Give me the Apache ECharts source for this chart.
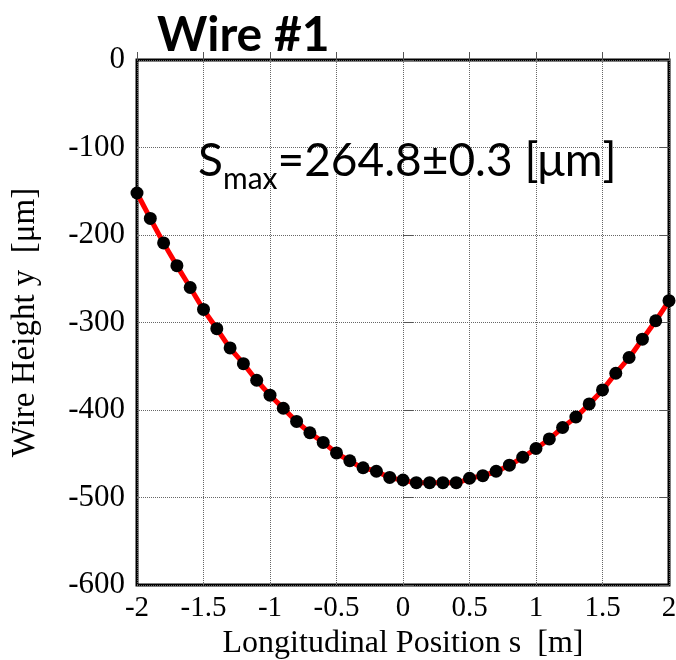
<!DOCTYPE html>
<html>
<head>
<meta charset="utf-8">
<script src="https://cdn.jsdelivr.net/npm/echarts@6/dist/echarts.min.js"></script>
<style>
  html, body { margin: 0; padding: 0; background: #fff; }
  #chart { width: 676px; height: 660px; }
</style>
</head>
<body>
<div id="chart"></div>
<script>
// longitudinal position s [m]
const positions = [-2.0, -1.9, -1.8, -1.7, -1.6, -1.5, -1.4, -1.3, -1.2, -1.1, -1.0,
  -0.9, -0.8, -0.7, -0.6, -0.5, -0.4, -0.3, -0.2, -0.1, 0.0,
  0.1, 0.2, 0.3, 0.4, 0.5, 0.6, 0.7, 0.8, 0.9, 1.0,
  1.1, 1.2, 1.3, 1.4, 1.5, 1.6, 1.7, 1.8, 1.9, 2.0]
// measured wire height y [um]
const heights = [-152, -181, -209, -235, -260, -285, -307, -329, -347, -366, -383,
  -398, -413, -426, -437, -449, -458, -466, -470, -477, -480,
  -483, -483, -483, -483, -478, -475, -470, -463, -454, -444,
  -433, -420, -408, -393, -377, -358, -340, -319, -298, -275]

const pts = positions.map((s, i) => [s, heights[i]])

const serif = 'Liberation Serif'
const sans = 'Lato'
const gridLine = { show: true, lineStyle: { type: 'dotted', color: '#666', width: 1 } }

const chart = echarts.init(document.getElementById('chart'))
chart.setOption({
  animation: false,
  title: [
    {
      text: 'Wire #1',
      left: 152,
      top: 7,
      textStyle: { fontFamily: sans, fontWeight: 'bold', fontSize: 48, color: '#000' }
    },
    {
      text: '{m|S}{s|max}{m|=264.8±0.3 [μm]}',
      left: 193,
      top: 133,
      textStyle: {
        rich: {
          m: { fontFamily: sans, fontWeight: 'normal', fontSize: 46, color: '#000', lineHeight: 58, verticalAlign: 'top' },
          s: { fontFamily: sans, fontWeight: 'normal', fontSize: 30, color: '#000', verticalAlign: 'top', padding: [26, 0, 0, 0] }
        }
      }
    }
  ],
  grid: {
    left: 137,
    right: 7,
    top: 60,
    bottom: 75,
    outerBoundsMode: 'none',
    show: true,
    borderColor: '#000',
    borderWidth: 3,
    backgroundColor: 'transparent'
  },
  xAxis: {
    type: 'value',
    min: -2,
    max: 2,
    interval: 0.5,
    name: 'Longitudinal Position s  [m]',
    nameLocation: 'middle',
    nameGap: 40,
    nameTextStyle: { fontFamily: serif, fontSize: 32, color: '#000' },
    axisLine: { show: false },
    axisTick: { show: true, inside: true, length: 8, lineStyle: { color: '#555' } },
    axisLabel: { fontFamily: serif, fontSize: 29, color: '#000', margin: 9 },
    splitLine: gridLine
  },
  yAxis: [
    {
      type: 'value',
      min: -600,
      max: 0,
      interval: 100,
      name: 'Wire Height y  [μm]',
      nameLocation: 'middle',
      nameGap: 95,
      nameTextStyle: { fontFamily: serif, fontSize: 33, color: '#000' },
      axisLine: { show: false },
      axisTick: { show: true, inside: true, length: 10, lineStyle: { color: '#555' } },
      axisLabel: { fontFamily: serif, fontSize: 31, color: '#000', margin: 12 },
      splitLine: gridLine
    },
    {
      type: 'value',
      position: 'right',
      min: -600,
      max: 0,
      interval: 100,
      axisLine: { show: false },
      axisTick: { show: true, inside: true, length: 10, lineStyle: { color: '#555' } },
      axisLabel: { show: false },
      splitLine: { show: false }
    }
  ],
  series: [
    {
      name: 'fit',
      type: 'line',
      data: pts,
      smooth: true,
      symbol: 'none',
      lineStyle: { color: '#ff0000', width: 5 },
      z: 2
    },
    {
      name: 'data',
      type: 'scatter',
      data: pts,
      symbol: 'circle',
      symbolSize: 13,
      itemStyle: { color: '#000', opacity: 1 },
      z: 3
    }
  ]
})
</script>
</body>
</html>
